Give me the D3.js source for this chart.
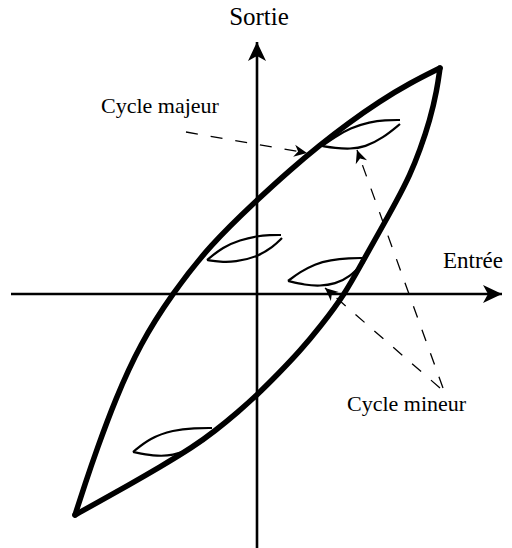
<!DOCTYPE html>
<html lang="fr">
<head>
    <meta charset="UTF-8">
    <title>Cycle d'hystérésis</title>
    <style>
        body { margin: 0; background: #fff; }
        svg { display: block; }
        text { font-family: "Liberation Serif", "Times New Roman", serif; fill: #000; }
    </style>
</head>
<body>
    <div id="chart"></div>

    <script src="https://d3js.org/d3.v7.min.js"></script>
    <script>
        const w = 512;
        const h = 548;

        // grand cycle : branche montante et branche descendante (unites arbitraires)
        const upperBranch = [
            [-1.82, -2.21], [-1.72, -1.90], [-1.60, -1.55], [-1.42, -1.06], [-1.17, -0.50],
            [-0.85, 0], [-0.47, 0.49], [0, 0.94], [0.33, 1.24], [0.63, 1.49],
            [0.90, 1.70], [1.23, 1.93], [1.53, 2.11], [1.83, 2.26]
        ];
        const lowerBranch = [
            [1.83, 2.26], [1.80, 2.04], [1.73, 1.74], [1.63, 1.44], [1.53, 1.19],
            [1.39, 0.92], [1.24, 0.65], [1.07, 0.35], [0.88, 0], [0.63, -0.33],
            [0.43, -0.57], [0.22, -0.79], [0, -1.01], [-0.19, -1.18], [-0.42, -1.37],
            [-0.64, -1.53], [-0.97, -1.73], [-1.30, -1.92], [-1.57, -2.07], [-1.82, -2.21]
        ];

        // petits cycles : arc du haut, arc du bas
        const minorA = {
            up: [[0.65, 1.48], [0.78, 1.57], [0.93, 1.66], [1.13, 1.72], [1.28, 1.74], [1.43, 1.74]],
            down: [[0.65, 1.48], [0.78, 1.46], [0.93, 1.45], [1.08, 1.47], [1.26, 1.56], [1.43, 1.70]]
        };
        const minorB = {
            up: [[-0.50, 0.34], [-0.34, 0.47], [-0.17, 0.54], [0, 0.58], [0.13, 0.59], [0.24, 0.59]],
            down: [[-0.50, 0.34], [-0.37, 0.32], [-0.22, 0.32], [0, 0.37], [0.16, 0.47], [0.25, 0.56]]
        };
        const minorC = {
            up: [[0.31, 0.13], [0.43, 0.22], [0.58, 0.30], [0.73, 0.34], [0.93, 0.36], [1.06, 0.36]],
            down: [[0.31, 0.13], [0.48, 0.09], [0.63, 0.08], [0.78, 0.10], [0.93, 0.17], [1.07, 0.32]]
        };
        const minorD = {
            up: [[-1.24, -1.58], [-1.07, -1.44], [-0.84, -1.36], [-0.62, -1.34], [-0.45, -1.34]],
            down: [[-1.24, -1.58], [-1.04, -1.62], [-0.84, -1.62], [-0.64, -1.54], [-0.52, -1.46], [-0.45, -1.38]]
        };
        const minorLoops = [minorA, minorB, minorC, minorD];

        // fleches pointillees (depart -> cible)
        const pointers = [
            [[-0.71, 1.62], [0.50, 1.41]],
            [[1.86, -0.94], [1.00, 1.44]],
            [[1.83, -0.94], [0.68, 0.06]]
        ];

        // axes
        const xAxisExtent = [-2.46, 2.45];
        const yAxisExtent = [-2.54, 2.52];

        const labels = [
            { text: "Sortie", at: [0.02, 2.69], anchor: "middle", size: 25 },
            { text: "Entrée", at: [1.86, 0.26], anchor: "start", size: 23 },
            { text: "Cycle majeur", at: [-1.56, 1.81], anchor: "start", size: 22 },
            { text: "Cycle mineur", at: [0.90, -1.17], anchor: "start", size: 22 }
        ];

        const x = d3.scaleLinear().domain([-2.5, 2.5]).range([7, 507]);
        const y = d3.scaleLinear().domain([-2.54, 2.94]).range([548, 0]);

        const line = d3.line()
            .x(d => x(d[0]))
            .y(d => y(d[1]))
            .curve(d3.curveBasis);

        const svg = d3.select('#chart')
            .append('svg')
            .attr('width', w)
            .attr('height', h);

        const defs = svg.append('defs');
        // grosse fleche des axes
        defs.append('marker')
            .attr('id', 'axisHead')
            .attr('viewBox', '-20 -10 22 20')
            .attr('markerUnits', 'userSpaceOnUse')
            .attr('markerWidth', 22)
            .attr('markerHeight', 20)
            .attr('refX', 0)
            .attr('refY', 0)
            .attr('orient', 'auto')
            .append('path')
            .attr('d', 'M0,0 L-19,-9 L-14,0 L-19,9 Z')
            .attr('fill', '#000');
        // petite fleche des pointilles
        defs.append('marker')
            .attr('id', 'smallHead')
            .attr('viewBox', '-14 -7 16 14')
            .attr('markerUnits', 'userSpaceOnUse')
            .attr('markerWidth', 16)
            .attr('markerHeight', 14)
            .attr('refX', 0)
            .attr('refY', 0)
            .attr('orient', 'auto')
            .append('path')
            .attr('d', 'M0,0 L-13,-6 L-9,0 L-13,6 Z')
            .attr('fill', '#000');

        // axes
        svg.append('line')
            .attr('x1', x(xAxisExtent[0])).attr('y1', y(0))
            .attr('x2', x(xAxisExtent[1])).attr('y2', y(0))
            .attr('stroke', '#000').attr('stroke-width', 2.6)
            .attr('marker-end', 'url(#axisHead)');
        svg.append('line')
            .attr('x1', x(0)).attr('y1', y(yAxisExtent[0]))
            .attr('x2', x(0)).attr('y2', y(yAxisExtent[1]))
            .attr('stroke', '#000').attr('stroke-width', 2.6)
            .attr('marker-end', 'url(#axisHead)');

        // grand cycle
        svg.append('g')
            .attr('class', 'major')
            .selectAll('path')
            .data([upperBranch, lowerBranch])
            .enter()
            .append('path')
            .attr('d', line)
            .attr('fill', 'none')
            .attr('stroke', '#000')
            .attr('stroke-width', 5.5)
            .attr('stroke-linecap', 'round');

        // petits cycles
        svg.append('g')
            .attr('class', 'minor')
            .selectAll('path')
            .data(minorLoops.flatMap(m => [m.up, m.down]))
            .enter()
            .append('path')
            .attr('d', line)
            .attr('fill', 'none')
            .attr('stroke', '#000')
            .attr('stroke-width', 2.2);

        // pointilles
        svg.append('g')
            .attr('class', 'pointers')
            .selectAll('line')
            .data(pointers)
            .enter()
            .append('line')
            .attr('x1', d => x(d[0][0]))
            .attr('y1', d => y(d[0][1]))
            .attr('x2', d => x(d[1][0]))
            .attr('y2', d => y(d[1][1]))
            .attr('stroke', '#000')
            .attr('stroke-width', 1.3)
            .attr('stroke-dasharray', '12,13')
            .attr('marker-end', 'url(#smallHead)');

        // textes
        svg.append('g')
            .selectAll('text')
            .data(labels)
            .enter()
            .append('text')
            .attr('x', d => x(d.at[0]))
            .attr('y', d => y(d.at[1]))
            .attr('text-anchor', d => d.anchor)
            .attr('font-size', d => d.size)
            .text(d => d.text);
    </script>
</body>
</html>
